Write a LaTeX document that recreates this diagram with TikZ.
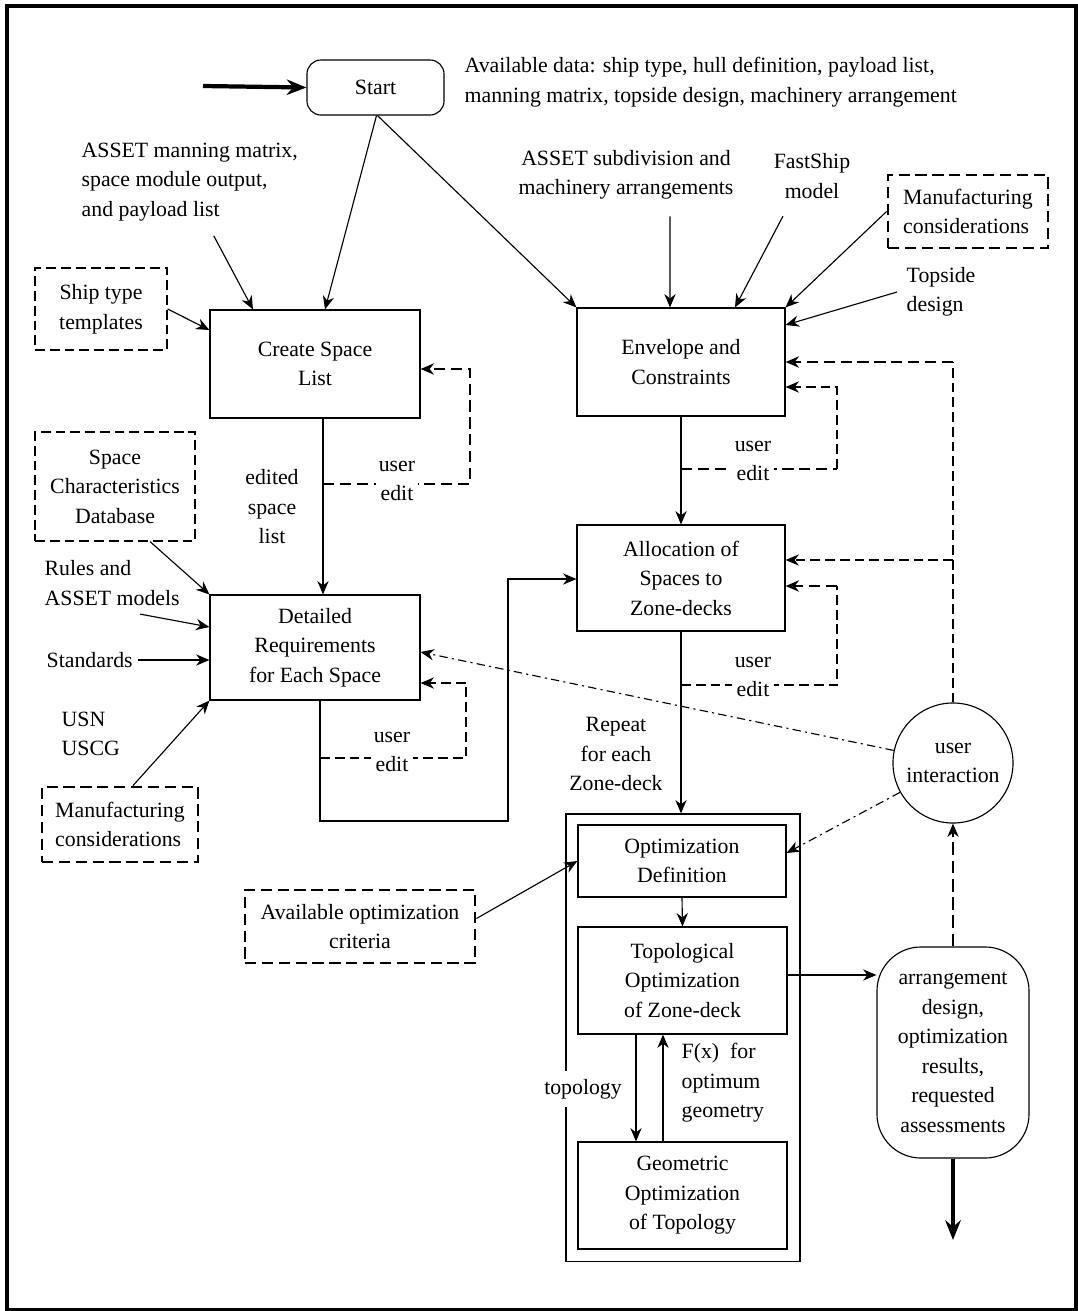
\documentclass[tikz,border=0pt]{standalone}
\usepackage{fontspec}
\setmainfont{Liberation Serif}
\usetikzlibrary{arrows.meta}

\begin{document}
\begin{tikzpicture}
[x=0.025cm,y=-0.025cm,
 every node/.style={font=\fontsize{15.5}{21}\selectfont,align=center,inner sep=1pt},
 box/.style={draw,line width=0.8pt},
 dthin/.style={dash pattern=on 7pt off 3.5pt,line width=0.8pt},
 dthick/.style={dash pattern=on 8pt off 4pt,line width=2pt},
 ddot/.style={dash pattern=on 6pt off 3pt on 1.5pt off 3pt,line width=0.8pt},
 arr/.style={-{Stealth[length=9.5pt,width=8pt]},line width=0.8pt},
 fat/.style={-{Stealth[length=14pt,width=11pt]},line width=3pt},
 lbl/.style={fill=white,inner sep=2pt}]
\useasboundingbox (0,0) rectangle (1078,1311);
\draw[line width=2.2pt] (7,6) rectangle (1076,1310);

% main chain
\node[box,rounded corners=0.35cm,minimum width=3.425cm,minimum height=1.375cm] (start) at (375.5,87.5) {Start};
\node[anchor=west,align=left] (avail) at (463,82) {Available data: ship type, hull definition, payload list,\\ manning matrix, topside design, machinery arrangement};
\node[box,minimum width=5.25cm,minimum height=2.7cm] (create) at (315,364) {Create Space\\List};
\node[box,minimum width=5.2cm,minimum height=2.7cm] (envelope) at (681,362) {Envelope and\\Constraints};
\node[box,minimum width=5.25cm,minimum height=2.625cm] (detailed) at (315,647.5) {Detailed\\Requirements\\for Each Space};
\node[box,minimum width=5.2cm,minimum height=2.65cm] (alloc) at (681,578) {Allocation of\\Spaces to\\Zone-decks};
\node[box,minimum width=5.85cm,minimum height=11.175cm] (outer) at (683,1037.5) {};
\node[box,minimum width=5.2cm,minimum height=1.8cm] (optdef) at (682,861) {Optimization\\Definition};
\node[box,minimum width=5.225cm,minimum height=2.675cm] (topo) at (682.5,980.5) {Topological\\Optimization\\of Zone-deck};
\node[box,minimum width=5.225cm,minimum height=2.675cm] (geom) at (682.5,1195.5) {Geometric\\Optimization\\of Topology};

% inputs
\node[anchor=west,align=left] (assetman) at (80,182) {ASSET manning matrix,\\space module output,\\ and payload list};
\node (assetsub) at (626,175) {ASSET subdivision and\\machinery arrangements};
\node (fastship) at (812,176) {FastShip\\model};
\node[box,dthick,align=left,minimum width=4cm,minimum height=1.825cm] (manuf1) at (968,211.5) {Manufacturing\\considerations};
\node[anchor=west,align=left] (topside) at (905,292) {Topside\\design};
\node[box,dthin,minimum width=3.3cm,minimum height=2.05cm] (shiptype) at (101,309) {Ship type\\templates};
\node[box,dthin,minimum width=4cm,minimum height=2.725cm] (spacedb) at (115,486.5) {Space\\Characteristics\\Database};
\node[anchor=west,align=left] (rules) at (43,583) {Rules and\\ASSET models};
\node[anchor=west] (standards) at (45,660) {Standards};
\node[anchor=west,align=left] (usn) at (60,734) {USN\\USCG};
\node[box,dthick,align=left,minimum width=3.9cm,minimum height=1.875cm] (manuf2) at (120,824.5) {Manufacturing\\considerations};
\node[box,dthick,minimum width=5.75cm,minimum height=1.825cm] (optcrit) at (360,926.5) {Available optimization\\criteria};
\node[box,circle,minimum size=3cm] (userint) at (953,763) {user\\interaction};
\node[box,rounded corners=1.1cm,minimum width=3.8cm,minimum height=5.275cm] (arrange) at (953,1052.5) {arrangement\\design,\\optimization\\results,\\requested\\assessments};

\coordinate (entry) at (203,86);
\coordinate (exit) at (953,1240);
\coordinate (turn) at (508,821);
\coordinate (ue1) at (323,484);
\coordinate (ue2) at (681,469);
\coordinate (ue3) at (681,685);
\coordinate (ue4) at (320,758);

\draw[fat] (entry) -- (start.west);
\draw[arr] ([xshift=0.025cm]start.south) -- ([xshift=0.25cm]create.north);
\draw[arr] ([xshift=0.05cm]start.south) -- (envelope.north west);
\draw[arr] ([xshift=0.6cm,yshift=-0.325cm]assetman.south) -- ([xshift=-1.55cm]create.north);
\draw[arr] (shiptype.east) -- ([yshift=0.85cm]create.west);
\draw[arr] ([xshift=0.2cm]create.south) -- ([xshift=0.2cm]detailed.north);
\draw[arr,dthick] (ue1) -- ++(147,0) |- ([yshift=-0.125cm]create.east);

\draw[arr] ([xshift=1.1cm,yshift=-0.375cm]assetsub.south) -- ([xshift=-0.275cm]envelope.north);
\draw[arr] ([xshift=-0.725cm,yshift=-0.4cm]fastship.south) -- ([xshift=1.35cm]envelope.north);
\draw[arr] (manuf1.west) -- (envelope.north east);
\draw[arr] ([xshift=-0.2cm]topside.west) -- ([yshift=0.925cm]envelope.east);
\draw[arr] (envelope.south) -- (alloc.north);
\draw[dthick] (ue2) -- ++(156,0) coordinate (ue2r);
\draw[arr,dthin] (ue2r) |- ([yshift=-0.625cm]envelope.east);

% feedback from user interaction
\draw[dthin] (userint.north) -- (userint.north |- envelope.east);
\draw[arr,dthick] (userint.north |- envelope.east) -- (envelope.east);
\draw[arr,dthin] ([yshift=0.45cm]alloc.east -| userint.north) -- ([yshift=0.45cm]alloc.east);
\draw[dthin] (ue3) -- ++(156,0) -- ++(0,-99) coordinate (ue3t);
\draw[arr,dthick] (ue3t) -- (ue3t -| alloc.east);
\draw[arr] (alloc.south) -- (alloc.south |- outer.north);

\draw[arr] ([xshift=0.125cm]detailed.south) |- (turn) |- ([yshift=-0.025cm]alloc.west);
\draw[arr,dthin] (ue4) -- ++(146,0) |- ([yshift=-0.8875cm]detailed.east);
\draw[arr,ddot] (userint.168) -- ([yshift=-0.1125cm]detailed.east);
\draw[arr,ddot] (userint.209) -- ([yshift=0.2cm]optdef.east);

\draw[arr] ([xshift=0.875cm]spacedb.south) -- (detailed.north west);
\draw[arr] ([xshift=0.7cm,yshift=-0.175cm]rules.south) -- ([yshift=0.5125cm]detailed.west);
\draw[arr] ([xshift=0.1cm]standards.east) -- (standards.east -| detailed.west);
\draw[arr] ([xshift=0.325cm]manuf2.north) -- (detailed.south west);
\draw[arr] ([yshift=0.2cm]optcrit.east) -- (optdef.west);

\draw[arr] (optdef.south) -- (topo.north);
\draw[arr] ([xshift=-1.1625cm]topo.south) -- ([xshift=-1.1625cm]geom.north);
\draw[arr] ([xshift=-0.4875cm]geom.north) -- ([xshift=-0.4875cm]topo.south);
\draw[arr] ([yshift=0.1375cm]topo.east) -- ([yshift=0.1375cm]topo.east -| arrange.west);
\draw[arr,dash pattern=on 9pt off 4pt] (arrange.north) -- (userint.south);
\draw[fat] (arrange.south) -- (exit);

% labels on the lines
\node (edited) at (272,507) {edited\\space\\list};
\node[lbl] (ued1) at (397,481) {user\\edit};
\node[lbl] (ued2) at (753,461) {user\\edit};
\node[lbl] (ued3) at (753,677) {user\\edit};
\node[lbl] (ued4) at (392,752) {user\\edit};
\node (repeat) at (616,754) {Repeat\\for each\\Zone-deck};
\node[lbl,inner ysep=6pt] (topol) at (583,1089) {topology};
\node[anchor=west,align=left] (fx) at (680,1083) {F(x)~ for\\optimum\\geometry};
\end{tikzpicture}
\end{document}
